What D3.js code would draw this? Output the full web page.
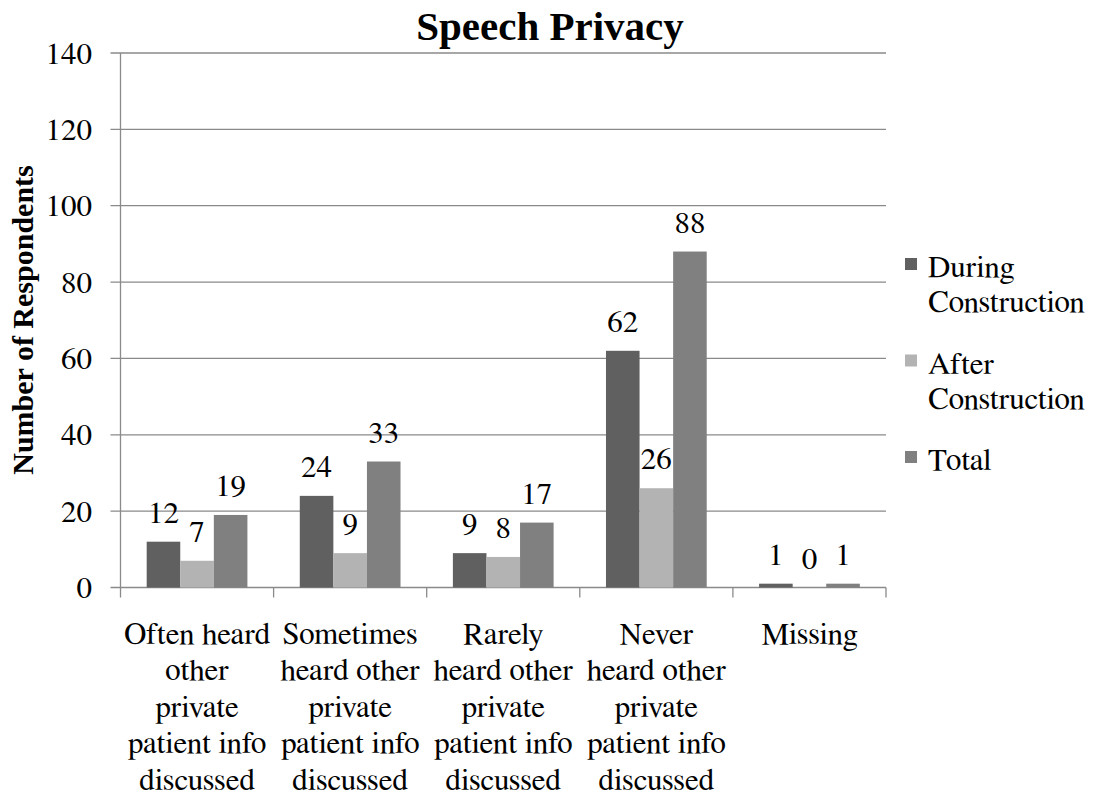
<!DOCTYPE html>
<html><head><meta charset="utf-8">
<script src="https://cdn.jsdelivr.net/npm/d3@7"></script>
</head><body style="margin:0">
<svg id="s" width="1097" height="796"></svg>
<script>
const categories = [
  ["Often heard","other","private","patient info","discussed"],
  ["Sometimes","heard other","private","patient info","discussed"],
  ["Rarely","heard other","private","patient info","discussed"],
  ["Never","heard other","private","patient info","discussed"],
  ["Missing"]
];
const seriesNames = ["During Construction","After Construction","Total"];
const legendLines = [["During","Construction"],["After","Construction"],["Total"]];
const during = [12,24,9,62,1];
const after = [7,9,8,26,0];
const total = [19,33,17,88,1];
const yTicks = [0,20,40,60,80,100,120,140];
const colors = ["#606060","#b3b3b3","#808080"];

const REG = "FreeSerif, Tinos, serif";
const series = [during, after, total];
const svg = d3.select("#s");
const L = 120.5, R = 886, T = 53, B = 587.5;
const x0 = d3.scaleBand().domain(d3.range(categories.length)).range([L, R]).padding(0);
const pad = x0.bandwidth() * 0.171;
const x1 = d3.scaleBand().domain(d3.range(series.length)).range([pad, x0.bandwidth() - pad]).padding(0);
const y = d3.scaleLinear().domain([0,140]).range([B, T]);
const grid = "#8a8a8a";

yTicks.forEach(t => {
  svg.append("line").attr("x1", L - 10).attr("x2", R).attr("y1", y(t)).attr("y2", y(t))
    .attr("stroke", grid).attr("stroke-width", 1.3);
});
svg.append("line").attr("x1", L).attr("x2", L).attr("y1", T).attr("y2", B)
  .attr("stroke", grid).attr("stroke-width", 1.3);
d3.range(categories.length + 1).forEach(i => {
  const xx = L + i * x0.bandwidth();
  svg.append("line").attr("x1", xx).attr("x2", xx).attr("y1", B).attr("y2", B + 10)
    .attr("stroke", grid).attr("stroke-width", 1.3);
});

categories.forEach((c, i) => {
  series.forEach((s, k) => {
    svg.append("rect").attr("x", x0(i) + x1(k)).attr("width", x1.bandwidth())
      .attr("y", y(s[i])).attr("height", B - y(s[i])).attr("fill", colors[k]);
  });
});

seriesNames.forEach((n, k) => {
  svg.append("rect").attr("x", 905).attr("y", 258 + k * 96.5).attr("width", 12).attr("height", 12)
    .attr("fill", colors[k]);
});

svg.append("text").attr("x", 550).attr("y", 40).attr("font-size", 41).attr("font-weight", "bold")
  .attr("font-family", "Liberation Serif").attr("text-anchor", "middle").text("Speech Privacy");

yTicks.forEach(t => {
  svg.append("text").attr("x", 92).attr("y", y(t) + 10.5).attr("font-size", 31)
    .attr("font-family", REG).attr("text-anchor", "end").text(t);
});

categories.forEach((c, i) => {
  series.forEach((s, k) => {
    svg.append("text").attr("x", x0(i) + x1(k) + x1.bandwidth() / 2).attr("y", y(s[i]) - 19)
      .attr("font-size", 31).attr("font-family", REG).attr("text-anchor", "middle").text(s[i]);
  });
  c.forEach((line, j) => {
    svg.append("text").attr("x", x0(i) + x0.bandwidth() / 2).attr("y", 644 + j * 36.4)
      .attr("font-size", 31).attr("font-family", REG).attr("text-anchor", "middle").text(line);
  });
});

legendLines.forEach((lines, k) => {
  lines.forEach((line, j) => {
    svg.append("text").attr("x", 928).attr("y", 277 + k * 96.5 + j * 35)
      .attr("font-size", 31).attr("font-family", REG).text(line);
  });
});

svg.append("text").attr("transform", "translate(33,320) rotate(-90)")
  .attr("font-size", 30).attr("font-weight", "bold").attr("font-family", "Liberation Serif")
  .attr("text-anchor", "middle").text("Number of Respondents");
</script>
</body></html>
